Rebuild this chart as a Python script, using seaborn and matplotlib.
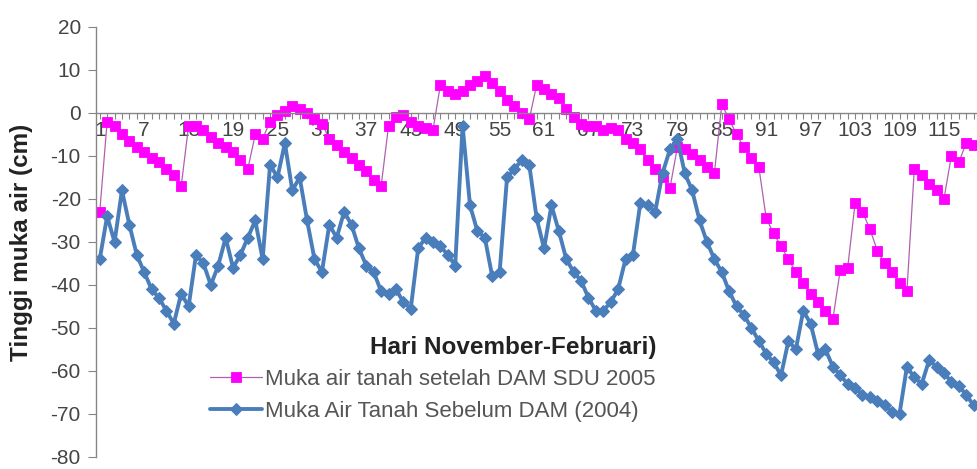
import numpy as np
import pandas as pd
import matplotlib
matplotlib.use("Agg")
import matplotlib.pyplot as plt
from matplotlib.ticker import FixedLocator, MultipleLocator
import seaborn as sns

# hari ke-1 .. ke-119 (November - Februari)
days = list(range(1, 120))
tick_days = list(range(1, 116, 6))

# Muka air tanah setelah DAM SDU 2005 (cm)
after_2005 = [
    -23, -2, -3, -5, -6.5, -8, -9, -10.5, -11.5, -13,
    -14.5, -17, -3, -3, -4, -5.5, -7, -8, -9, -11,
    -13, -5, -6, -2, -0.5, 0.5, 1.5, 1, 0, -1.5,
    -2.5, -6, -7.5, -9, -10.5, -12, -13.5, -15.5, -17, -3,
    -1, -0.5, -2, -3, -3.5, -4, 6.5, 5, 4.5, 5,
    6.5, 7.5, 8.5, 7, 5, 3, 1.5, 0, -1.5, 6.5,
    5.5, 4.5, 3.5, 1, -1, -2.5, -3, -3, -4, -3.5,
    -4, -6, -7, -8.5, -11, -13, -15, -17.5, -8, -8.5,
    -9.5, -11, -12.5, -14, 2, -1.5, -5, -8, -10.5, -12.5,
    -24.5, -28, -31, -34, -37, -39.5, -42, -44, -46, -48,
    -36.5, -36, -21, -23, -27, -32, -35, -37, -39.5, -41.5,
    -13, -14.5, -16.5, -18, -20, -10, -11.5, -7, -7.5,
]

# Muka Air Tanah Sebelum DAM (2004) (cm)
before_2004 = [
    -34, -24, -30, -18, -26, -33, -37, -41, -43, -46,
    -49, -42, -45, -33, -35, -40, -35.5, -29, -36, -33,
    -29, -25, -34, -12, -15, -7, -18, -15, -25, -34,
    -37, -26, -29, -23, -26, -31.5, -35.5, -37, -41.5, -42,
    -41, -44, -45.5, -31.5, -29, -30, -31, -33, -35.5, -3,
    -21.5, -27.5, -29, -38, -37, -15, -13, -11, -12, -24.5,
    -31.5, -21.5, -27.5, -34, -37, -39, -43, -46, -46, -44,
    -41, -34, -33, -21, -21.5, -23, -14, -8.5, -6, -14,
    -18, -25, -30, -34, -37, -41.5, -45, -47, -50, -53,
    -56, -58, -61, -53, -55, -46, -49, -56, -55, -59,
    -61, -63, -64, -65.5, -66, -67, -68, -69.5, -70, -59,
    -61.5, -63, -57.5, -59, -60.5, -62.5, -63.5, -65.5, -68,
]

label_after = "Muka air tanah setelah DAM SDU 2005"
label_before = "Muka Air Tanah Sebelum DAM (2004)"

df = pd.DataFrame({"hari": days, "after": after_2005, "before": before_2004})

sns.set_style("white")
plt.rcParams["font.family"] = ["Liberation Sans", "DejaVu Sans"]
plt.rcParams["axes.unicode_minus"] = False

fig = plt.figure(figsize=(9.78, 4.69), dpi=100)
ax = fig.add_axes([0.0982, 0.0256, 0.9018, 0.917])

sns.lineplot(data=df, x="hari", y="after", ax=ax, color="#B060B0", linewidth=0.9,
             marker="s", markersize=6.5, markerfacecolor="#FF00FF",
             markeredgecolor="#FF00FF", markeredgewidth=0.6, label=label_after)
sns.lineplot(data=df, x="hari", y="before", ax=ax, color="#4A7EBB", linewidth=2.8,
             marker="D", markersize=6.5, markerfacecolor="#4A7EBB",
             markeredgecolor="#4A7EBB", label=label_before)

ax.set_xlim(0.5, 119.6)
ax.set_ylim(-80, 20)
ax.set_yticks(range(-80, 21, 10))
ax.xaxis.set_major_locator(FixedLocator(tick_days))
ax.set_xticklabels([str(d) for d in tick_days])
ax.xaxis.set_minor_locator(MultipleLocator(1))

# sumbu x memotong di 0
ax.spines["bottom"].set_position(("data", 0))
ax.spines["top"].set_visible(False)
ax.spines["right"].set_visible(False)
for s in ["left", "bottom"]:
    ax.spines[s].set_color("#868686")
    ax.spines[s].set_linewidth(1.0)

ax.tick_params(axis="x", which="both", direction="out", color="#868686",
               labelsize=15, labelcolor="#444444", pad=1.5, bottom=True)
ax.tick_params(axis="x", which="major", length=4, width=0.8)
ax.tick_params(axis="x", which="minor", length=4, width=0.8)
ax.tick_params(axis="y", direction="out", length=6, width=0.8, color="#868686",
               labelsize=15, labelcolor="#444444", pad=5, left=True)

ax.set_ylabel("Tinggi muka air (cm)", fontsize=17.5, fontweight="bold", color="#222222")
ax.yaxis.set_label_coords(-0.0714, 0.5)
ax.set_xlabel("Hari November-Februari)", fontsize=17.5, fontweight="bold", color="#222222")
ax.xaxis.label.set_va("center")
ax.xaxis.set_label_coords(0.473, 0.254)

ax.legend(loc="upper left", bbox_to_anchor=(0.129, 0.205), frameon=False,
          fontsize=16, labelcolor="#555555", handlelength=2.35, handletextpad=0.15,
          borderpad=0, borderaxespad=0, labelspacing=0.5)

fig.savefig("out.png", dpi=100)
plt.close(fig)
